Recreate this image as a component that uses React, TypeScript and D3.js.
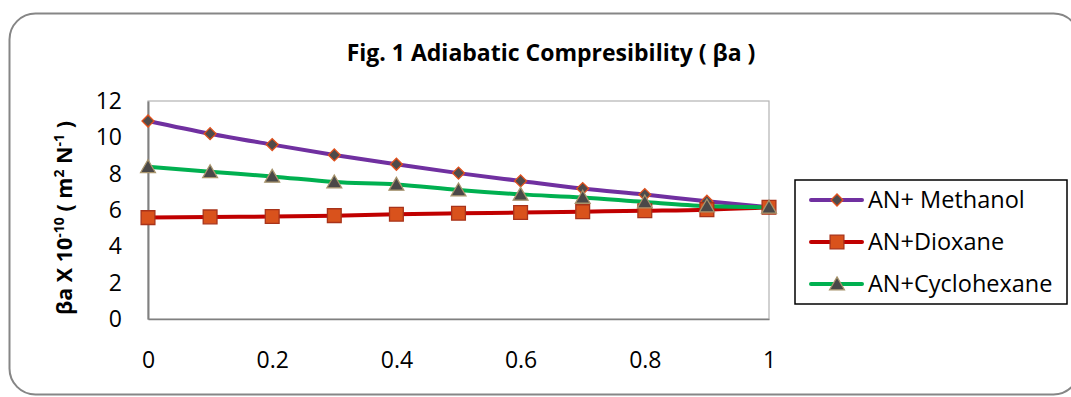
import React, { useRef, useEffect } from 'react';
import * as d3 from 'd3';

const W = 1071;
const H = 397;
const margin = { top: 101, right: 302, bottom: 78, left: 148 };
const FONT = '"Open Sans", "DejaVu Sans", sans-serif';

const fractions = [0, 0.1, 0.2, 0.3, 0.4, 0.5, 0.6, 0.7, 0.8, 0.9, 1];
const methanol = [10.9, 10.2, 9.6, 9.03, 8.52, 8.03, 7.6, 7.18, 6.85, 6.48, 6.15];
const dioxane = [5.58, 5.62, 5.64, 5.69, 5.77, 5.82, 5.86, 5.91, 5.96, 6.02, 6.15];
const cyclohexane = [8.38, 8.1, 7.85, 7.54, 7.41, 7.1, 6.86, 6.69, 6.44, 6.22, 6.15];
const seriesNames = ['AN+ Methanol', 'AN+Dioxane', 'AN+Cyclohexane'];
const xTicks = [0, 0.2, 0.4, 0.6, 0.8, 1];
const yTicks = [0, 2, 4, 6, 8, 10, 12];

const styles = [
  { line: '#7030A0', symbol: d3.symbolSquare, size: 72, rotate: 45, dy: 0, fill: '#4f4b4b', stroke: '#e2501c' },
  { line: '#C00000', symbol: d3.symbolSquare, size: 190, rotate: 0, dy: 0, fill: '#d9521c', stroke: '#a8331a' },
  { line: '#00B050', symbol: d3.symbolTriangle, size: 95, rotate: 0, dy: 1.5, fill: '#4a4848', stroke: '#a8946c' },
];

const App: React.FC = () => {
  const svgRef = useRef<SVGSVGElement>(null);

  useEffect(() => {
    const svg = d3.select(svgRef.current as SVGSVGElement);
    svg.selectAll('*').remove();

    const innerW = W - margin.left - margin.right;
    const innerH = H - margin.top - margin.bottom;
    const x = d3.scaleLinear().domain([0, 1]).range([margin.left, margin.left + innerW]);
    const y = d3.scaleLinear().domain([0, 12]).range([margin.top + innerH, margin.top]);

    // outer rounded frame
    svg.append('rect')
      .attr('x', 9.5).attr('y', 13.5)
      .attr('width', 1070).attr('height', 381)
      .attr('rx', 26).attr('ry', 26)
      .attr('fill', 'white')
      .attr('stroke', '#868686').attr('stroke-width', 2);

    // title
    svg.append('text')
      .attr('x', 551).attr('y', 61)
      .attr('text-anchor', 'middle')
      .attr('font-family', FONT).attr('font-weight', 'bold').attr('font-size', 23)
      .text('Fig. 1 Adiabatic Compresibility ( βa )');

    // plot area border
    svg.append('rect')
      .attr('x', x(0)).attr('y', y(12))
      .attr('width', x(1) - x(0)).attr('height', y(0) - y(12))
      .attr('fill', 'none').attr('stroke', '#b3b3b3').attr('stroke-width', 1.2);

    // axes
    const yAxis = svg.append('g')
      .attr('transform', `translate(${x(0)},0)`)
      .call(d3.axisLeft(y).tickValues(yTicks).tickSize(0).tickPadding(26).tickFormat(d3.format('d')));
    yAxis.select('.domain').attr('stroke', '#808080').attr('stroke-width', 2);
    yAxis.selectAll('text').attr('font-family', FONT).attr('font-size', 23).attr('fill', '#000');

    const xAxis = svg.append('g')
      .attr('transform', `translate(0,${y(0)})`)
      .call(d3.axisBottom(x).tickValues(xTicks).tickSize(0).tickPadding(33).tickFormat(d => `${d}`));
    xAxis.select('.domain').attr('stroke', '#808080').attr('stroke-width', 1.5);
    xAxis.selectAll('text').attr('font-family', FONT).attr('font-size', 23).attr('fill', '#000');

    // y axis title
    const yt = svg.append('text')
      .attr('transform', `translate(72,218) rotate(-90)`)
      .attr('text-anchor', 'middle')
      .attr('font-family', FONT).attr('font-weight', 'bold').attr('font-size', 21.5);
    yt.append('tspan').text('βa X 10');
    yt.append('tspan').attr('font-size', 14).attr('dy', -8).text('-10');
    yt.append('tspan').attr('dy', 8).text(' ( m');
    yt.append('tspan').attr('font-size', 14).attr('dy', -8).text('2');
    yt.append('tspan').attr('dy', 8).text(' N');
    yt.append('tspan').attr('font-size', 14).attr('dy', -8).text('-1');
    yt.append('tspan').attr('dy', 8).text(' )');

    const allSeries = [methanol, dioxane, cyclohexane];
    const line = d3.line<number>().x((_, i) => x(fractions[i])).y(d => y(d)).curve(d3.curveMonotoneX);

    allSeries.forEach((vals, si) => {
      const st = styles[si];
      svg.append('path')
        .datum(vals)
        .attr('d', line)
        .attr('fill', 'none')
        .attr('stroke', st.line).attr('stroke-width', 4)
        .attr('stroke-linejoin', 'round').attr('stroke-linecap', 'round');
    });
    allSeries.forEach((vals, si) => {
      const st = styles[si];
      svg.append('g').selectAll('path')
        .data(vals)
        .join('path')
        .attr('transform', (d, i) => `translate(${x(fractions[i])},${y(d) + st.dy}) rotate(${st.rotate})`)
        .attr('d', d3.symbol().type(st.symbol).size(st.size))
        .attr('fill', st.fill).attr('stroke', st.stroke).attr('stroke-width', 1.3);
    });

    // legend
    const lg = svg.append('g');
    lg.append('rect')
      .attr('x', 795).attr('y', 180).attr('width', 272).attr('height', 124)
      .attr('fill', 'white').attr('stroke', '#000').attr('stroke-width', 1.5);
    seriesNames.forEach((name, i) => {
      const st = styles[i];
      const ly = 200 + i * 42;
      lg.append('line')
        .attr('x1', 811).attr('x2', 862).attr('y1', ly).attr('y2', ly)
        .attr('stroke', st.line).attr('stroke-width', 4).attr('stroke-linecap', 'round');
      lg.append('path')
        .attr('transform', `translate(837,${ly + st.dy}) rotate(${st.rotate})`)
        .attr('d', d3.symbol().type(st.symbol).size(st.size)())
        .attr('fill', st.fill).attr('stroke', st.stroke).attr('stroke-width', 1.3);
      lg.append('text')
        .attr('x', 868).attr('y', ly).attr('dy', '0.35em')
        .attr('font-family', FONT).attr('font-size', 23.5)
        .text(name);
    });
  }, []);

  return <svg ref={svgRef} width={W} height={H} style={{ display: 'block', position: 'absolute', left: 0, top: 0 }} />;
};

export default App;
